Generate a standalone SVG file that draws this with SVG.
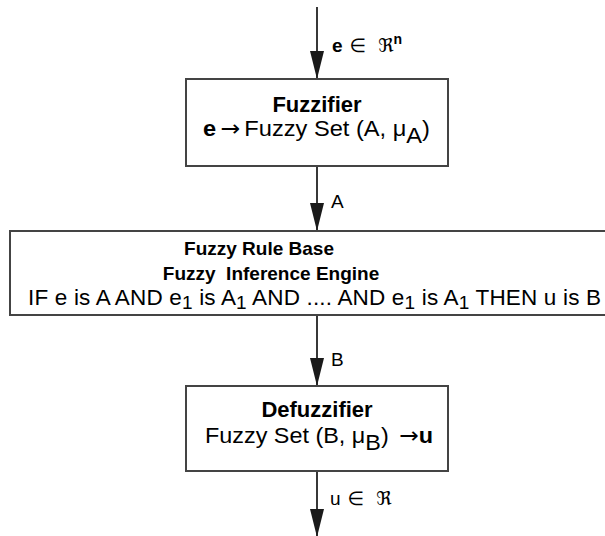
<svg xmlns="http://www.w3.org/2000/svg" width="605" height="536" viewBox="0 0 605 536">
  <defs>
    <marker id="arrow" markerUnits="userSpaceOnUse" markerWidth="30" markerHeight="16" refX="28" refY="7" orient="auto">
      <path d="M0,0 L28,7 L0,14 z" fill="#1a1a1a"/>
    </marker>
    <style>
      .box { fill: #ffffff; stroke: #444444; stroke-width: 2; }
      .conn { stroke: #222222; stroke-width: 1.8; fill: none; marker-end: url(#arrow); }
      text { font-family: "Liberation Sans", Arial, "DejaVu Sans", sans-serif; fill: #000000; }
      .title { font-size: 19px; font-weight: bold; text-anchor: middle; }
      .big { font-size: 22px; }
      .body { font-size: 22.5px; }
      .lbl { font-size: 19px; }
      .b { font-weight: bold; }
      .sym { font-family: "DejaVu Sans", sans-serif; }
    </style>
  </defs>
  <rect width="605" height="536" fill="#ffffff"/>

  <!-- connectors -->
  <g id="connectors">
    <line class="conn" x1="317" y1="7" x2="317" y2="79"/>
    <line class="conn" x1="317" y1="166" x2="317" y2="231"/>
    <line class="conn" x1="317" y1="315" x2="317" y2="386"/>
    <line class="conn" x1="317" y1="471" x2="317" y2="537"/>
    <text class="lbl" x="332" y="52"><tspan class="b">e</tspan><tspan class="sym" dx="7">∈</tspan><tspan class="sym" dx="12">ℜ</tspan><tspan class="b" font-size="14" dy="-8">n</tspan></text>
    <text class="lbl" x="331" y="208">A</text>
    <text class="lbl" x="331" y="366">B</text>
    <text class="lbl" x="330" y="505">u<tspan class="sym" dx="7">∈</tspan><tspan class="sym" dx="12">ℜ</tspan></text>
  </g>

  <!-- fuzzifier -->
  <g id="fuzzifier">
    <rect class="box" x="186" y="79" width="262" height="87"/>
    <text class="title big" x="317" y="112">Fuzzifier</text>
    <text class="body" x="203" y="136" textLength="227" lengthAdjust="spacingAndGlyphs"><tspan class="b">e</tspan><tspan class="sym" dx="4">→</tspan><tspan dx="4">Fuzzy Set (A, μ</tspan><tspan dy="7">A</tspan><tspan dy="-7">)</tspan></text>
  </g>

  <!-- rule base and inference engine -->
  <g id="rule-base">
    <rect class="box" x="10" y="231" width="620" height="84"/>
    <text class="title" x="259" y="255">Fuzzy Rule Base</text>
    <text class="title" x="271" y="280" xml:space="preserve">Fuzzy  Inference Engine</text>
    <text class="body" x="28" y="305" font-size="20.5" textLength="573" lengthAdjust="spacing">IF e is A AND e<tspan font-size="19" dy="4">1</tspan><tspan dy="-4"> is A</tspan><tspan font-size="19" dy="4">1</tspan><tspan dy="-4"> AND .... AND e</tspan><tspan font-size="19" dy="4">1</tspan><tspan dy="-4">  is A</tspan><tspan font-size="19" dy="4">1</tspan><tspan dy="-4"> THEN u is B</tspan></text>
  </g>

  <!-- defuzzifier -->
  <g id="defuzzifier">
    <rect class="box" x="186" y="386" width="262" height="85"/>
    <text class="title big" x="317" y="417">Defuzzifier</text>
    <text class="body" x="205" y="443" textLength="228" lengthAdjust="spacingAndGlyphs">Fuzzy Set (B, μ<tspan dy="7">B</tspan><tspan dy="-7">)</tspan><tspan class="sym" dx="10">→</tspan><tspan class="b">u</tspan></text>
  </g>
</svg>
